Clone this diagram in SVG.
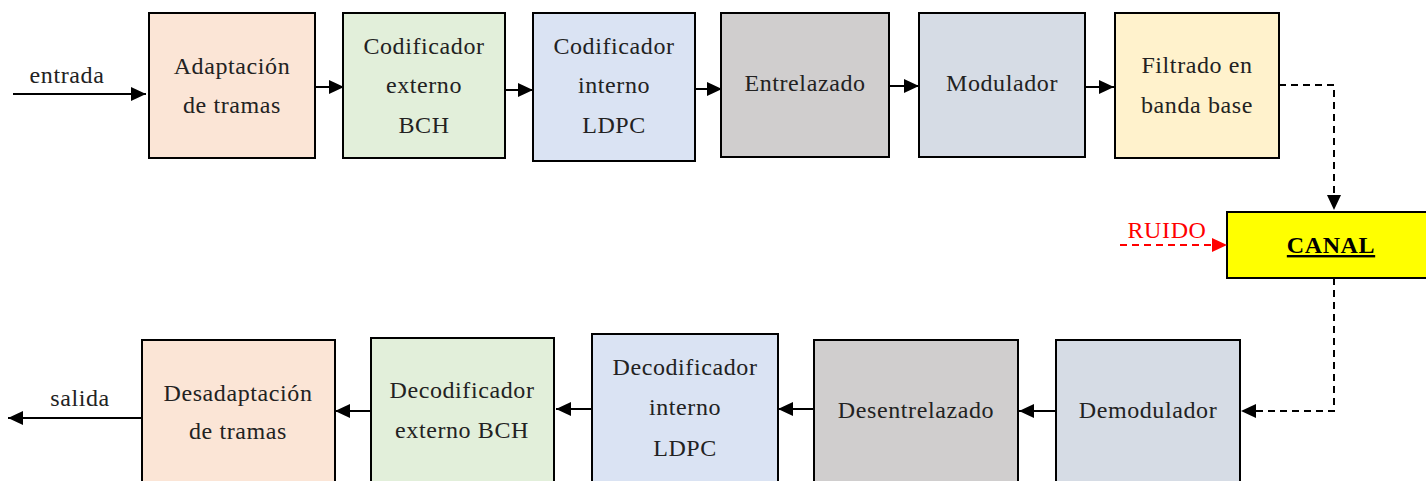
<svg xmlns="http://www.w3.org/2000/svg" width="1426" height="481" viewBox="0 0 1426 481">
  <defs>
    <marker id="arrow" markerUnits="userSpaceOnUse" markerWidth="16" markerHeight="16" refX="15" refY="8" orient="auto">
      <path d="M0,1 L15,8 L0,15 z" fill="#000"/>
    </marker>
    <marker id="arrowRed" markerUnits="userSpaceOnUse" markerWidth="16" markerHeight="16" refX="15" refY="8" orient="auto">
      <path d="M0,1 L15,8 L0,15 z" fill="#ff0000"/>
    </marker>
  </defs>
  <style>
    .box { stroke: #000; stroke-width: 2; }
    .lbl { font-family: "Liberation Serif", "DejaVu Serif", serif; font-size: 24px; letter-spacing: 0.6px; fill: #222; text-anchor: middle; }
    .wire { stroke: #000; stroke-width: 2; fill: none; marker-end: url(#arrow); }
    .dash { stroke-dasharray: 7 5; }
  </style>
  <rect width="1426" height="481" fill="#fff"/>

  <!-- transmitter chain -->
  <g id="adaptacion">
    <rect class="box" x="149" y="13" width="166" height="145" fill="#FBE5D6"/>
    <text class="lbl" x="232" y="74">Adaptación</text>
    <text class="lbl" x="232" y="113">de tramas</text>
  </g>
  <g id="cod-bch">
    <rect class="box" x="343" y="13" width="162" height="145" fill="#E2EFDA"/>
    <text class="lbl" x="424" y="54">Codificador</text>
    <text class="lbl" x="424" y="93">externo</text>
    <text class="lbl" x="424" y="133">BCH</text>
  </g>
  <g id="cod-ldpc">
    <rect class="box" x="533" y="13" width="162" height="148" fill="#DAE3F3"/>
    <text class="lbl" x="614" y="54">Codificador</text>
    <text class="lbl" x="614" y="93">interno</text>
    <text class="lbl" x="614" y="133">LDPC</text>
  </g>
  <g id="entrelazado">
    <rect class="box" x="721" y="13" width="168" height="144" fill="#D0CECE"/>
    <text class="lbl" x="805" y="91">Entrelazado</text>
  </g>
  <g id="modulador">
    <rect class="box" x="919" y="13" width="166" height="144" fill="#D6DCE5"/>
    <text class="lbl" x="1002" y="91">Modulador</text>
  </g>
  <g id="filtrado">
    <rect class="box" x="1115" y="13" width="164" height="145" fill="#FFF2CC"/>
    <text class="lbl" x="1197" y="73">Filtrado en</text>
    <text class="lbl" x="1197" y="113">banda base</text>
  </g>

  <!-- channel -->
  <g id="canal">
    <rect class="box" x="1227" y="212" width="205" height="66" fill="#FFFF00"/>
    <text class="lbl" x="1331" y="253" style="font-weight:bold;fill:#000" text-decoration="underline">CANAL</text>
  </g>

  <!-- receiver chain -->
  <g id="desadaptacion">
    <rect class="box" x="142" y="340" width="193" height="150" fill="#FBE5D6"/>
    <text class="lbl" x="238" y="401">Desadaptación</text>
    <text class="lbl" x="238" y="439">de tramas</text>
  </g>
  <g id="dec-bch">
    <rect class="box" x="371" y="338" width="183" height="152" fill="#E2EFDA"/>
    <text class="lbl" x="462" y="398">Decodificador</text>
    <text class="lbl" x="462" y="438">externo BCH</text>
  </g>
  <g id="dec-ldpc">
    <rect class="box" x="592" y="334" width="186" height="156" fill="#DAE3F3"/>
    <text class="lbl" x="685" y="375">Decodificador</text>
    <text class="lbl" x="685" y="415">interno</text>
    <text class="lbl" x="685" y="456">LDPC</text>
  </g>
  <g id="desentrelazado">
    <rect class="box" x="814" y="340" width="204" height="150" fill="#D0CECE"/>
    <text class="lbl" x="916" y="418">Desentrelazado</text>
  </g>
  <g id="demodulador">
    <rect class="box" x="1056" y="340" width="184" height="150" fill="#D6DCE5"/>
    <text class="lbl" x="1148" y="418">Demodulador</text>
  </g>

  <!-- connectors -->
  <g id="connectors">
    <line class="wire" x1="13" y1="94" x2="146" y2="94"/>
    <text class="lbl" x="67" y="83">entrada</text>
    <line class="wire" x1="315" y1="87" x2="344" y2="87"/>
    <line class="wire" x1="505" y1="90" x2="533" y2="90"/>
    <line class="wire" x1="695" y1="89" x2="722" y2="89"/>
    <line class="wire" x1="889" y1="86" x2="919" y2="86"/>
    <line class="wire" x1="1085" y1="87" x2="1114" y2="87"/>
    <polyline class="wire dash" points="1279,85 1334,85 1334,210"/>
    <line class="dash" x1="1120" y1="245" x2="1227" y2="245" stroke="#ff0000" stroke-width="2" marker-end="url(#arrowRed)"/>
    <text class="lbl" x="1167" y="238" style="fill:#ff0000">RUIDO</text>
    <polyline class="wire dash" points="1334,278 1334,411 1241,411"/>
    <line class="wire" x1="1056" y1="411" x2="1019" y2="411"/>
    <line class="wire" x1="814" y1="409" x2="778" y2="409"/>
    <line class="wire" x1="592" y1="409" x2="556" y2="409"/>
    <line class="wire" x1="371" y1="411" x2="335" y2="411"/>
    <line class="wire" x1="142" y1="418" x2="8" y2="418"/>
    <text class="lbl" x="80" y="406">salida</text>
  </g>
</svg>
